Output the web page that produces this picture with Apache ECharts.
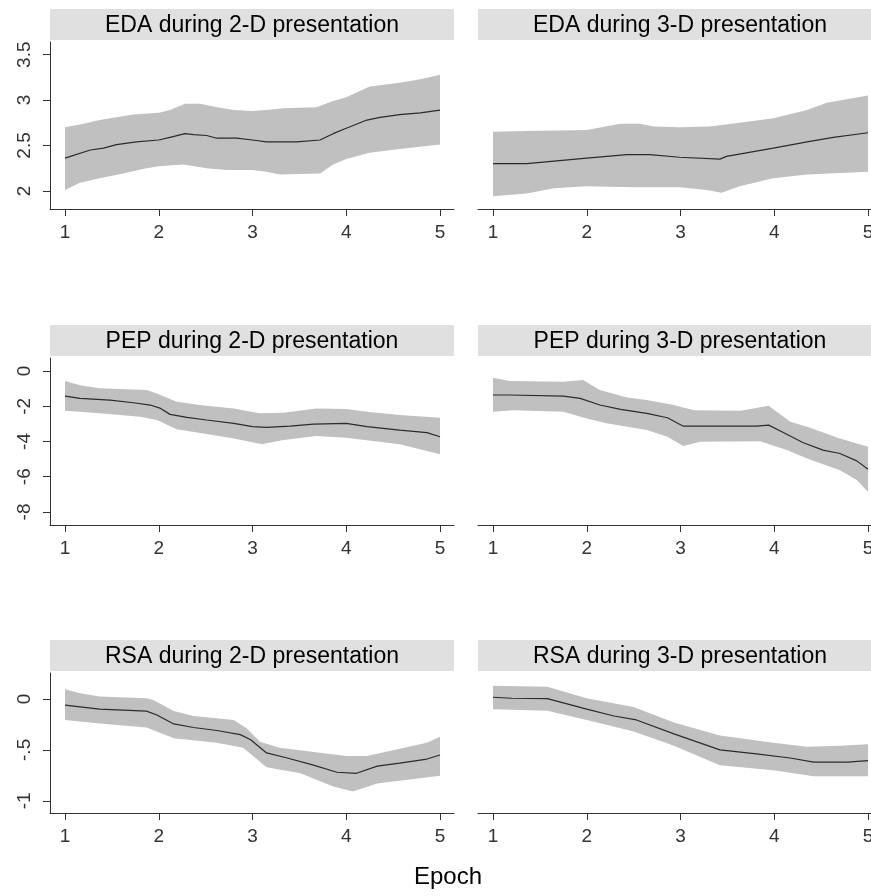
<!DOCTYPE html>
<html>
<head>
<meta charset="utf-8">
<script src="https://cdn.jsdelivr.net/npm/echarts@6/dist/echarts.min.js"></script>
<style>
  html, body { margin: 0; padding: 0; background: #fff; }
  #chart { width: 871px; height: 896px; }
</style>
</head>
<body>
<div id="chart"></div>
<script>
// panel titles
var panelTitles = [
  'EDA during 2-D presentation', 'EDA during 3-D presentation',
  'PEP during 2-D presentation', 'PEP during 3-D presentation',
  'RSA during 2-D presentation', 'RSA during 3-D presentation'
];
var xTicks = [1, 2, 3, 4, 5];
var edaTicks = [2, 2.5, 3, 3.5];
var pepTicks = [-8, -6, -4, -2, 0];
var rsaTicks = [-1, -0.5, 0];

// EDA, 2-D
var eda2dMid = [[1,2.36],[1.27,2.45],[1.41,2.47],[1.55,2.51],[1.76,2.54],[2,2.56],[2.12,2.59],[2.28,2.63],[2.37,2.62],[2.51,2.61],[2.62,2.58],[2.83,2.58],[3,2.56],[3.15,2.54],[3.47,2.54],[3.72,2.56],[3.86,2.63],[4,2.69],[4.22,2.78],[4.36,2.81],[4.57,2.84],[4.79,2.86],[5,2.89]];
var eda2dHi = [[1,2.70],[1.16,2.73],[1.37,2.78],[1.73,2.84],[2,2.86],[2.12,2.89],[2.28,2.96],[2.44,2.96],[2.62,2.92],[2.8,2.89],[3,2.88],[3.15,2.89],[3.33,2.91],[3.68,2.92],[3.86,2.99],[4,3.03],[4.25,3.15],[4.57,3.19],[4.79,3.23],[5,3.28]];
var eda2dLo = [[1,2.01],[1.16,2.09],[1.37,2.14],[1.62,2.19],[1.87,2.25],[2,2.27],[2.26,2.29],[2.51,2.25],[2.72,2.23],[3,2.23],[3.15,2.21],[3.29,2.18],[3.72,2.19],[3.86,2.29],[4,2.35],[4.25,2.42],[4.57,2.46],[5,2.51]];
// EDA, 3-D
var eda3dMid = [[1,2.30],[1.36,2.30],[2,2.36],[2.43,2.40],[2.67,2.40],[2.99,2.37],[3.42,2.35],[3.49,2.38],[3.99,2.47],[4.35,2.54],[4.63,2.59],[5,2.64]];
var eda3dHi = [[1,2.65],[1.36,2.66],[2,2.67],[2.36,2.74],[2.57,2.74],[2.71,2.71],[2.99,2.70],[3.31,2.71],[3.63,2.75],[3.99,2.80],[4.35,2.89],[4.56,2.97],[5,3.05]];
var eda3dLo = [[1,1.94],[1.36,1.97],[1.65,2.03],[2,2.05],[2.5,2.04],[2.99,2.04],[3.28,2.01],[3.44,1.98],[3.63,2.05],[3.99,2.14],[4.35,2.18],[5,2.21]];
// PEP, 2-D
var pep2dMid = [[1,-1.42],[1.16,-1.55],[1.48,-1.65],[1.73,-1.80],[1.91,-1.93],[2.02,-2.12],[2.12,-2.46],[2.3,-2.63],[2.51,-2.78],[2.8,-2.97],[3,-3.16],[3.15,-3.20],[3.4,-3.13],[3.65,-3.01],[4,-2.97],[4.22,-3.16],[4.57,-3.35],[4.86,-3.50],[5,-3.73]];
var pep2dHi = [[1,-0.57],[1.16,-0.80],[1.37,-0.98],[1.87,-1.08],[1.98,-1.27],[2.19,-1.74],[2.44,-1.93],[2.8,-2.12],[3.07,-2.40],[3.33,-2.37],[3.68,-2.12],[4,-2.16],[4.22,-2.31],[4.57,-2.50],[5,-2.65]];
var pep2dLo = [[1,-2.25],[1.37,-2.40],[1.8,-2.59],[1.98,-2.78],[2.19,-3.31],[2.51,-3.58],[2.8,-3.83],[3.1,-4.15],[3.33,-3.92],[3.68,-3.69],[4,-3.79],[4.57,-4.15],[5,-4.72]];
// PEP, 3-D
var pep3dMid = [[1,-1.36],[1.18,-1.36],[1.75,-1.42],[1.93,-1.55],[2.14,-1.93],[2.36,-2.18],[2.64,-2.40],[2.86,-2.65],[3.03,-3.13],[3.81,-3.13],[3.94,-3.07],[4.06,-3.39],[4.31,-4.07],[4.52,-4.49],[4.7,-4.68],[4.88,-5.10],[5,-5.57]];
var pep3dHi = [[1,-0.38],[1.18,-0.57],[1.75,-0.61],[1.96,-0.51],[2.14,-1.08],[2.43,-1.50],[2.64,-1.65],[2.93,-1.93],[3.14,-2.22],[3.64,-2.25],[3.94,-1.97],[4.17,-2.88],[4.35,-3.16],[4.7,-3.83],[5,-4.30]];
var pep3dLo = [[1,-2.31],[1.22,-2.22],[1.75,-2.31],[2,-2.69],[2.21,-2.97],[2.64,-3.35],[2.86,-3.73],[3.03,-4.26],[3.21,-4.02],[3.85,-3.98],[4.14,-4.49],[4.35,-4.96],[4.7,-5.63],[4.88,-6.19],[5,-6.86]];
// RSA, 2-D
var rsa2dMid = [[1,-0.06],[1.37,-0.10],[1.87,-0.12],[1.98,-0.157],[2.16,-0.245],[2.37,-0.28],[2.62,-0.31],[2.87,-0.35],[2.98,-0.40],[3.15,-0.53],[3.37,-0.58],[3.65,-0.65],[3.9,-0.72],[4.11,-0.73],[4.33,-0.66],[4.57,-0.63],[4.86,-0.59],[5,-0.55]];
var rsa2dHi = [[1,0.095],[1.16,0.056],[1.37,0.023],[1.87,0.007],[1.94,-0.01],[2.16,-0.118],[2.37,-0.167],[2.8,-0.206],[2.94,-0.29],[3.08,-0.42],[3.29,-0.48],[4,-0.56],[4.22,-0.56],[4.57,-0.49],[4.86,-0.43],[5,-0.37]];
var rsa2dLo = [[1,-0.206],[1.37,-0.24],[1.87,-0.28],[2.16,-0.385],[2.62,-0.43],[2.9,-0.48],[3.15,-0.67],[3.51,-0.73],[3.86,-0.86],[4.07,-0.91],[4.33,-0.83],[5,-0.755]];
// RSA, 3-D
var rsa3dMid = [[1,0.017],[1.2,0.007],[1.58,0.003],[2,-0.10],[2.29,-0.167],[2.53,-0.206],[2.93,-0.343],[3.42,-0.50],[3.81,-0.54],[4.17,-0.58],[4.42,-0.62],[4.78,-0.62],[5,-0.605]];
var rsa3dHi = [[1,0.13],[1.58,0.12],[2,0.007],[2.5,-0.08],[2.93,-0.23],[3.42,-0.36],[3.99,-0.43],[4.35,-0.47],[4.7,-0.46],[5,-0.445]];
var rsa3dLo = [[1,-0.10],[1.58,-0.115],[2,-0.206],[2.5,-0.32],[2.93,-0.46],[3.42,-0.65],[3.99,-0.70],[4.42,-0.76],[5,-0.76]];

var panels = [
  { mid: eda2dMid, hi: eda2dHi, lo: eda2dLo, ticks: edaTicks, min: 1.80, max: 3.64, row: 0, col: 0 },
  { mid: eda3dMid, hi: eda3dHi, lo: eda3dLo, ticks: edaTicks, min: 1.80, max: 3.64, row: 0, col: 1 },
  { mid: pep2dMid, hi: pep2dHi, lo: pep2dLo, ticks: pepTicks, min: -8.74, max: 0.74, row: 1, col: 0 },
  { mid: pep3dMid, hi: pep3dHi, lo: pep3dLo, ticks: pepTicks, min: -8.74, max: 0.74, row: 1, col: 1 },
  { mid: rsa2dMid, hi: rsa2dHi, lo: rsa2dLo, ticks: rsaTicks, min: -1.12, max: 0.255, row: 2, col: 0 },
  { mid: rsa3dMid, hi: rsa3dHi, lo: rsa3dLo, ticks: rsaTicks, min: -1.12, max: 0.255, row: 2, col: 1 }
];

var FONT = "'Liberation Sans', Arial, sans-serif";
// right column runs past the edge of the picture and gets cut at 871
var colLeft = [50, 478];
var panelW = 404;
var rowTop = [42, 358, 673];
var rowH = [167, 167, 140];
var stripTop = [9, 325, 640];
var stripH = 31;

var grids = [], xAxes = [], yAxes = [], series = [], graphics = [];

panels.forEach(function (p, i) {
  grids.push({
    left: colLeft[p.col], top: rowTop[p.row], width: panelW, height: rowH[p.row],
    outerBoundsMode: 'none', containLabel: false
  });
  xAxes.push({
    type: 'value', gridIndex: i, min: 0.84, max: 5.149,
    splitLine: { show: false },
    axisLine: { show: true, onZero: false, lineStyle: { color: '#333', width: 1 } },
    axisTick: { show: true, length: 7, customValues: xTicks, lineStyle: { color: '#333' } },
    axisLabel: { customValues: xTicks, margin: 14, fontSize: 19, fontFamily: FONT, color: '#333', hideOverlap: false }
  });
  yAxes.push({
    type: 'value', gridIndex: i, min: p.min, max: p.max,
    show: p.col === 0,
    splitLine: { show: false },
    axisLine: { show: true, onZero: false, lineStyle: { color: '#333', width: 1 } },
    axisTick: { show: true, length: 7, customValues: p.ticks, lineStyle: { color: '#333' } },
    axisLabel: {
      customValues: p.ticks, rotate: 90, margin: 16, fontSize: 19, fontFamily: FONT, color: '#333',
      formatter: function (v) { return String(v).replace('0.', '.'); }
    }
  });
  // confidence band as one polygon
  series.push({
    type: 'custom', xAxisIndex: i, yAxisIndex: i, silent: true, clip: true, z: 1,
    data: [p.hi[0]],
    renderItem: (function (hi, lo) {
      return function (params, api) {
        var pts = hi.map(function (d) { return api.coord(d); })
          .concat(lo.slice().reverse().map(function (d) { return api.coord(d); }));
        return { type: 'polygon', shape: { points: pts }, style: { fill: '#c0c0c0' } };
      };
    })(p.hi, p.lo)
  });
  series.push({
    type: 'line', xAxisIndex: i, yAxisIndex: i, data: p.mid, z: 3,
    showSymbol: false, silent: true,
    lineStyle: { color: '#2b2b2b', width: 1.2 }
  });
  graphics.push({
    type: 'rect', shape: { x: colLeft[p.col], y: stripTop[p.row], width: panelW, height: stripH },
    style: { fill: '#e0e0e0' }, silent: true
  });
  graphics.push({
    type: 'text', x: colLeft[p.col] + panelW / 2, y: stripTop[p.row] + stripH / 2 + 1,
    style: { text: panelTitles[i], fill: '#000', font: '23px ' + FONT, textAlign: 'center', textVerticalAlign: 'middle' },
    silent: true
  });
});

graphics.push({
  type: 'text', x: 448, y: 877,
  style: { text: 'Epoch', fill: '#000', font: '24px ' + FONT, textAlign: 'center', textVerticalAlign: 'middle' }
});

var chart = echarts.init(document.getElementById('chart'), null, { renderer: 'canvas' });
chart.setOption({
  animation: false,
  backgroundColor: '#fff',
  grid: grids,
  xAxis: xAxes,
  yAxis: yAxes,
  series: series,
  graphic: graphics
});
</script>
</body>
</html>
